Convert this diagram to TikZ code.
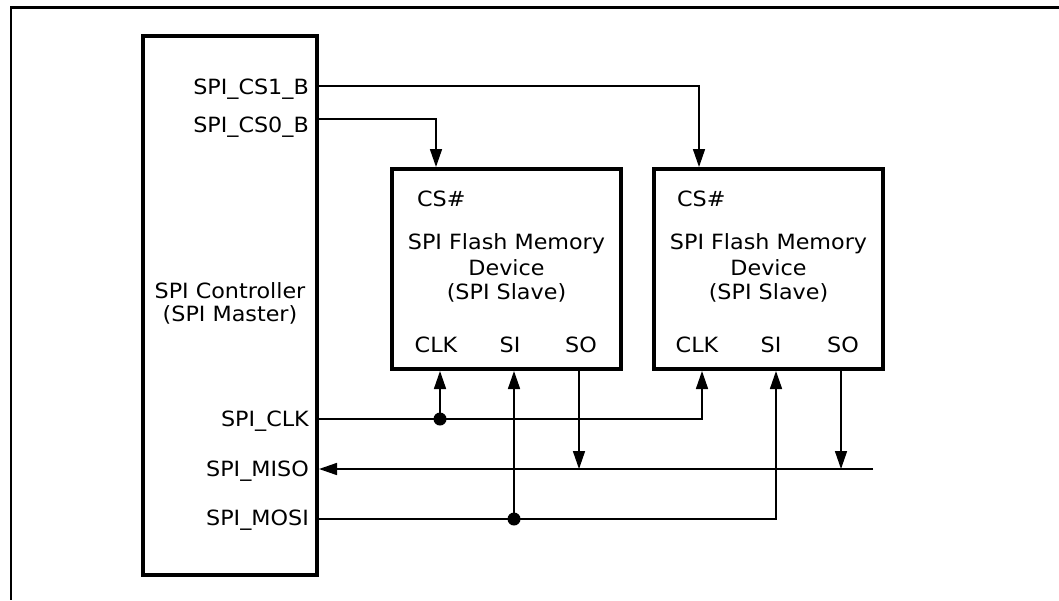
\documentclass[tikz,border=0pt]{standalone}
\usepackage{fontspec}
\setmainfont{DejaVu Sans}[FakeStretch=1.06]
\usetikzlibrary{arrows.meta}
\tikzset{
  blk/.style={draw, line width=4pt, rectangle, inner sep=0pt},
  lbl/.style={inner sep=0pt, font=\fontsize{21}{25}\selectfont},
  sig/.style={line width=1.6pt},
  tip/.style={-{Triangle[length=18pt,width=12pt]}},
  dotp/.style={circle, fill=black, inner sep=0pt, minimum size=13pt},
  frameline/.style={line width=2.5pt}
}
\begin{document}
\begin{tikzpicture}[x=1pt,y=-1pt]
\useasboundingbox (0,0) rectangle (1059,600);
% frame (top and left edges)
\draw[line width=2.5pt] (10,7.5) -- (1059,7.5);
\draw[line width=1.2pt] (11,7) -- (11,600);

% blocks
\node[blk, minimum width=174pt, minimum height=539pt] (ctrl) at (230,305.5) {};
\node[blk, minimum width=229pt, minimum height=200pt] (s1) at (506.5,269) {};
\node[blk, minimum width=229pt, minimum height=200pt] (s2) at (768.5,269) {};

% controller texts
\node[lbl, anchor=base] (ct1) at (230,298) {SPI Controller};
\node[lbl, anchor=base] (ct2) at (230,321) {(SPI Master)};
\node[lbl, anchor=base east] (lcs1) at (309,94) {SPI\_CS1\_B};
\node[lbl, anchor=base east] (lcs0) at (309,132) {SPI\_CS0\_B};
\node[lbl, anchor=base east] (lclk) at (309,426) {SPI\_CLK};
\node[lbl, anchor=base east] (lmiso) at (309,476) {SPI\_MISO};
\node[lbl, anchor=base east] (lmosi) at (309,525) {SPI\_MOSI};

% slave 1 texts
\node[lbl, anchor=base west] (a1) at (417,206) {CS\#};
\node[lbl, anchor=base] (a2) at (506.5,249) {SPI Flash Memory};
\node[lbl, anchor=base] (a3) at (506.5,275) {Device};
\node[lbl, anchor=base] (a4) at (506.5,299) {(SPI Slave)};
\node[lbl, anchor=base] (a5) at (436,352) {CLK};
\node[lbl, anchor=base] (a6) at (510,352) {SI};
\node[lbl, anchor=base] (a7) at (581,352) {SO};

% slave 2 texts
\node[lbl, anchor=base west] (b1) at (677,206) {CS\#};
\node[lbl, anchor=base] (b2) at (768.5,249) {SPI Flash Memory};
\node[lbl, anchor=base] (b3) at (768.5,275) {Device};
\node[lbl, anchor=base] (b4) at (768.5,299) {(SPI Slave)};
\node[lbl, anchor=base] (b5) at (697,352) {CLK};
\node[lbl, anchor=base] (b6) at (771,352) {SI};
\node[lbl, anchor=base] (b7) at (843,352) {SO};

% helper coordinates
\coordinate (ycs1) at (0,86);
\coordinate (ycs0) at (0,119);
\coordinate (yclk) at (0,419);
\coordinate (ymiso) at (0,469);
\coordinate (ymosi) at (0,519);
\coordinate (x1cs) at (436,0);
\coordinate (x2cs) at (699,0);
\coordinate (x1clk) at (440,0);
\coordinate (x1si) at (514,0);
\coordinate (x1so) at (579,0);
\coordinate (x2clk) at (702,0);
\coordinate (x2si) at (776,0);
\coordinate (x2so) at (841,0);
\coordinate (misoend) at (873,469);

% junction dots
\node[dotp] (d1) at (x1clk |- yclk) {};
\node[dotp] (d2) at (x1si |- ymosi) {};

% chip selects
\draw[sig, tip] (ctrl.east |- ycs1) -| (s2.north -| x2cs);
\draw[sig, tip] (ctrl.east |- ycs0) -| (s1.north -| x1cs);

% clock
\draw[sig] (ctrl.east |- yclk) -- (d1.center);
\draw[sig, tip] (d1.center) -| (s2.south -| x2clk);
\draw[sig, tip] (d1.center) -- (s1.south -| x1clk);

% miso
\draw[sig, tip] (misoend) -- (ctrl.east |- ymiso);
\draw[sig, tip] (s1.south -| x1so) -- (x1so |- ymiso);
\draw[sig, tip] (s2.south -| x2so) -- (x2so |- ymiso);

% mosi
\draw[sig] (ctrl.east |- ymosi) -- (d2.center);
\draw[sig, tip] (d2.center) -| (s2.south -| x2si);
\draw[sig, tip] (d2.center) -- (s1.south -| x1si);
\end{tikzpicture}
\end{document}
